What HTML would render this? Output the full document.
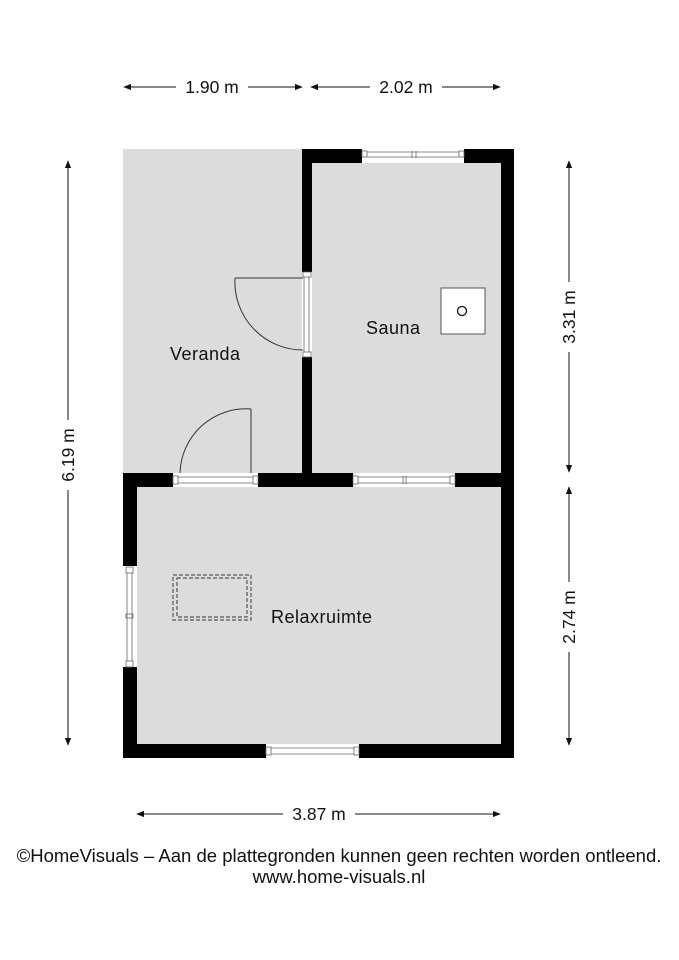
<!DOCTYPE html>
<html><head><meta charset="utf-8"><style>
html,body{margin:0;padding:0;background:#fff;width:679px;height:960px;overflow:hidden}
svg{display:block}
text{font-family:"Liberation Sans",Arial,sans-serif;fill:#111}
</style></head><body>
<svg width="679" height="960" viewBox="0 0 679 960" xmlns="http://www.w3.org/2000/svg">
<defs>
<marker id="a" viewBox="0 0 10 10" refX="9" refY="5" markerWidth="8" markerHeight="8" orient="auto-start-reverse" markerUnits="userSpaceOnUse"><path d="M0,1 L10,5 L0,9 z" fill="#111"/></marker>
</defs>
<rect x="123" y="149" width="180" height="325" fill="#dcdcdc"/>
<rect x="312" y="163" width="189" height="310" fill="#dcdcdc"/>
<rect x="137" y="487" width="364" height="257" fill="#dcdcdc"/>
<g fill="#000">
<rect x="302" y="149" width="212" height="14"/>
<rect x="302" y="149" width="10" height="338"/>
<rect x="501" y="149" width="13" height="609"/>
<rect x="123" y="473" width="391" height="14"/>
<rect x="123" y="473" width="14" height="285"/>
<rect x="123" y="744" width="391" height="14"/>
</g>
<g fill="#fff">
<rect x="362" y="149" width="102" height="14"/>
<rect x="353" y="473" width="102" height="14"/>
<rect x="173" y="473" width="85" height="14"/>
<rect x="302" y="272" width="10" height="85"/>
<rect x="123" y="566" width="14" height="101"/>
<rect x="266" y="744" width="93" height="14"/>
</g>
<g fill="none" stroke="#666" stroke-width="0.8">
<rect x="362" y="151" width="5" height="6"/><rect x="459" y="151" width="5" height="6"/>
<line x1="367" y1="152" x2="459" y2="152"/><line x1="367" y1="157" x2="459" y2="157"/><line x1="412" y1="151" x2="412" y2="158"/><line x1="416" y1="151" x2="416" y2="158"/>
<rect x="353" y="476" width="5" height="8"/><rect x="450" y="476" width="5" height="8"/>
<line x1="358" y1="477" x2="450" y2="477"/><line x1="358" y1="483" x2="450" y2="483"/><line x1="403" y1="476" x2="403" y2="484"/><line x1="406" y1="476" x2="406" y2="484"/>
<rect x="173" y="476" width="5" height="8"/><rect x="253" y="476" width="5" height="8"/>
<line x1="178" y1="477" x2="253" y2="477"/><line x1="178" y1="483" x2="253" y2="483"/>
<rect x="303" y="272" width="8" height="5"/><rect x="303" y="352" width="8" height="5"/>
<line x1="304" y1="277" x2="304" y2="352"/><line x1="309" y1="277" x2="309" y2="352"/>
<rect x="126" y="567" width="7" height="6"/><rect x="126" y="661" width="7" height="6"/><rect x="126" y="614" width="7" height="4"/>
<line x1="127" y1="573" x2="127" y2="661"/><line x1="132" y1="573" x2="132" y2="661"/>
<rect x="266" y="747" width="5" height="8"/><rect x="354" y="747" width="5" height="8"/>
<line x1="271" y1="748" x2="354" y2="748"/><line x1="271" y1="754" x2="354" y2="754"/>
</g>
<g fill="none" stroke="#333" stroke-width="1">
<line x1="303" y1="278" x2="235" y2="278"/>
<path d="M235,278 A68,68 0 0 0 303,350"/>
<line x1="251" y1="473" x2="251" y2="409"/>
<path d="M251,409 A66,66 0 0 0 180,473"/>
</g>
<rect x="441" y="288" width="44" height="46" fill="#fff" stroke="#555" stroke-width="1"/>
<circle cx="462" cy="311" r="4.5" fill="none" stroke="#111" stroke-width="1.3"/>
<g fill="none" stroke="#555" stroke-width="1.2" stroke-dasharray="4,2">
<rect x="173" y="575" width="78" height="45"/>
<rect x="177" y="578" width="70" height="39"/>
</g>
<g font-size="18" letter-spacing="0.5">
<text x="170" y="360">Veranda</text>
<text x="366" y="334">Sauna</text>
<text x="271" y="623">Relaxruimte</text>
</g>
<g stroke="#111" stroke-width="1" marker-start="url(#a)" marker-end="url(#a)">
<line x1="124" y1="87" x2="302" y2="87"/>
<line x1="311" y1="87" x2="500" y2="87"/>
<line x1="68" y1="161" x2="68" y2="745"/>
<line x1="569" y1="161" x2="569" y2="472"/>
<line x1="569" y1="487" x2="569" y2="745"/>
<line x1="137" y1="814" x2="500" y2="814"/>
</g>
<g fill="#fff">
<rect x="176" y="77" width="72" height="22"/>
<rect x="370" y="77" width="72" height="22"/>
<rect x="57" y="420" width="22" height="70"/>
<rect x="558" y="282" width="22" height="70"/>
<rect x="558" y="582" width="22" height="70"/>
<rect x="283" y="803" width="72" height="22"/>
</g>
<g font-size="17.5" text-anchor="middle">
<text x="212" y="93">1.90 m</text>
<text x="406" y="93">2.02 m</text>
<text x="319" y="820">3.87 m</text>
<text transform="translate(74,455) rotate(-90)">6.19 m</text>
<text transform="translate(575,317) rotate(-90)">3.31 m</text>
<text transform="translate(575,617) rotate(-90)">2.74 m</text>
</g>
<g font-size="18.5" text-anchor="middle">
<text x="339" y="862">©HomeVisuals – Aan de plattegronden kunnen geen rechten worden ontleend.</text>
<text x="339" y="883">www.home-visuals.nl</text>
</g>
</svg>
</body></html>
